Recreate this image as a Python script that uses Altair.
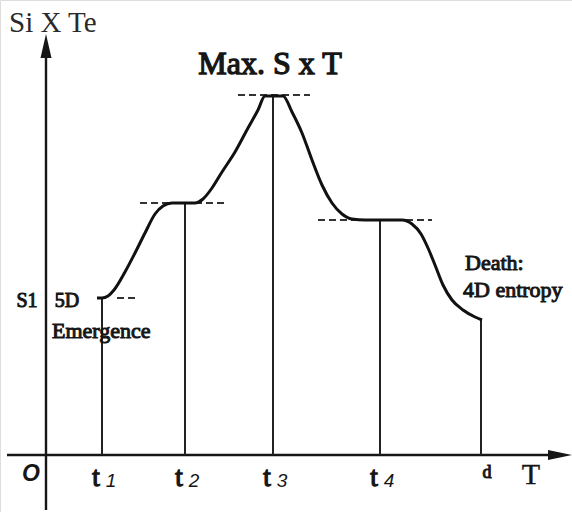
import altair as alt
import pandas as pd

# Times marked on the T axis and the S x T level reached at each of them
t_names = ["1", "2", "3", "4"]
t_pos = [5.6, 13.9, 22.7, 33.4]
t_level = [15.7, 25.2, 36.0, 23.5]
d_pos = 43.5
d_level = 13.5

# S x T trajectory from emergence to death
curve_t = [5.1, 5.6, 6.2, 6.8, 7.9, 8.9, 9.9, 10.9, 11.7, 12.6, 14.9, 15.7, 16.6,
           17.6, 18.9, 20.2, 21.2, 21.9, 23.7, 24.6, 25.6, 26.6, 27.6, 28.6,
           29.6, 30.6, 31.9, 35.6, 36.6, 37.5, 38.2, 38.9, 39.7, 40.6, 41.7,
           42.9, 43.6]
curve_s = [15.7, 15.7, 15.9, 16.5, 18.3, 20.2, 22.2, 24.1, 24.9, 25.2, 25.2, 25.6,
           26.7, 28.3, 30.3, 32.7, 34.5, 35.9, 35.9, 34.3, 32.2, 29.5, 27.0,
           25.2, 24.1, 23.6, 23.5, 23.5, 23.1, 22.1, 20.7, 19.0, 17.0, 15.5,
           14.5, 13.8, 13.5]

# Dashed reference levels (level, from, to)
ref_level = [15.7, 25.2, 36.0, 23.5]
ref_from = [7.1, 9.4, 19.2, 27.2]
ref_to = [8.9, 17.9, 26.4, 38.6]

# Axis extents
x_axis_from, x_axis_to = -3.9, 51.0
y_axis_from, y_axis_to = -5.5, 40.5

X_DOM = [-4.6, 52.6]
Y_DOM = [-5.7, 45.5]
SERIF = "Liberation Serif"
INK = "#161616"


def xe(field="x"):
    return alt.X(f"{field}:Q", scale=alt.Scale(domain=X_DOM, nice=False, zero=False), axis=None)


def ye(field="y"):
    return alt.Y(f"{field}:Q", scale=alt.Scale(domain=Y_DOM, nice=False, zero=False), axis=None)


def text_layer(df, size, heavy=0.0, italic=False, bold=False, align="center",
               color=INK, font=SERIF):
    """Text in the given font; `heavy` thickens the glyphs with an outline."""
    opts = dict(
        font=font, fontSize=size,
        fontWeight=700 if bold else 400,
        fontStyle="italic" if italic else "normal",
        align=align, baseline="middle", color=color,
    )
    if heavy > 0:
        opts.update(stroke=color, strokeWidth=heavy)
    return alt.Chart(df).mark_text(**opts).encode(x=xe(), y=ye(), text="label:N")


# Coordinate axes
axes_df = pd.DataFrame({
    "x": [x_axis_from, 0.0], "x2": [x_axis_to, 0.0],
    "y": [0.0, y_axis_from], "y2": [0.0, y_axis_to],
})
axes = alt.Chart(axes_df).mark_rule(color=INK, strokeWidth=2.4).encode(
    x=xe(), x2="x2:Q", y=ye(), y2="y2:Q")

up_arrow = alt.Chart(pd.DataFrame({"x": [0.0], "y": [y_axis_to + 0.4]})).mark_point(
    shape="M 0 -1.2 L 0.55 1.2 L -0.55 1.2 Z", size=400, filled=True,
    color=INK, opacity=1).encode(x=xe(), y=ye())
right_arrow = alt.Chart(pd.DataFrame({"x": [x_axis_to + 0.4], "y": [0.0]})).mark_point(
    shape="M 1.2 0 L -1.2 -0.5 L -1.2 0.5 Z", size=400, filled=True,
    color=INK, opacity=1).encode(x=xe(), y=ye())

# Drop lines from the curve down to the T axis
drops_df = pd.DataFrame({"x": t_pos + [d_pos], "y": [0.0] * 5, "y2": t_level + [d_level]})
drops = alt.Chart(drops_df).mark_rule(color="#222222", strokeWidth=2).encode(
    x=xe(), y=ye(), y2="y2:Q")

# Dashed levels
refs_df = pd.DataFrame({"x": ref_from, "x2": ref_to, "y": ref_level})
refs = alt.Chart(refs_df).mark_rule(color="#333333", strokeWidth=2, strokeDash=[7, 4]).encode(
    x=xe(), x2="x2:Q", y=ye())

# Main curve
curve_df = pd.DataFrame({"x": curve_t, "y": curve_s})
curve = alt.Chart(curve_df).mark_line(
    color="#111111", strokeWidth=3, interpolate="monotone").encode(
    x=xe(), y=ye(), order="x:Q")

# Tick labels t1..t4, d, origin and T
t_df = pd.DataFrame({"x": [p - 0.6 for p in t_pos], "y": [-2.3] * 4, "label": ["t"] * 4})
n_df = pd.DataFrame({"x": [p + 0.9 for p in t_pos], "y": [-2.6] * 4, "label": t_names})
d_df = pd.DataFrame({"x": [d_pos + 0.6], "y": [-1.8], "label": ["d"]})
o_df = pd.DataFrame({"x": [-1.5], "y": [-1.9], "label": ["O"]})
T_df = pd.DataFrame({"x": [48.5], "y": [-2.0], "label": ["T"]})

# Annotations
ylab_df = pd.DataFrame({"x": [-3.7], "y": [43.2], "label": ["Si X Te"]})
max_df = pd.DataFrame({"x": [22.4], "y": [39.1], "label": ["Max. S x T"]})
s1_df = pd.DataFrame({"x": [-1.9], "y": [15.4], "label": ["S1"]})
d5_df = pd.DataFrame({"x": [2.1], "y": [15.4], "label": ["5D"]})
em_df = pd.DataFrame({"x": [0.6], "y": [12.4], "label": ["Emergence"]})
death_df = pd.DataFrame({"x": [41.9, 41.7], "y": [19.2, 16.5], "label": ["Death:", "4D entropy"]})

chart = alt.layer(
    axes, up_arrow, right_arrow, drops, refs, curve,
    text_layer(t_df, 27, heavy=1.3),
    text_layer(n_df, 19, italic=True, font="Liberation Sans"),
    text_layer(d_df, 18, heavy=1.0),
    text_layer(o_df, 23, bold=True, italic=True, font="Liberation Sans"),
    text_layer(T_df, 30, heavy=0.4),
    text_layer(ylab_df, 29, align="left", color="#2a2a2a"),
    text_layer(max_df, 32, heavy=1.3),
    text_layer(s1_df, 20, heavy=1.0),
    text_layer(d5_df, 20, heavy=1.0),
    text_layer(em_df, 22, heavy=1.0, align="left"),
    text_layer(death_df, 22, heavy=1.0, align="left"),
).properties(
    width=572, height=512, autosize=alt.AutoSizeParams(type="none"), padding=0,
).configure_view(stroke=None).configure(background="white")

chart.save("out.html", embed_options={"renderer": "svg", "actions": False})
